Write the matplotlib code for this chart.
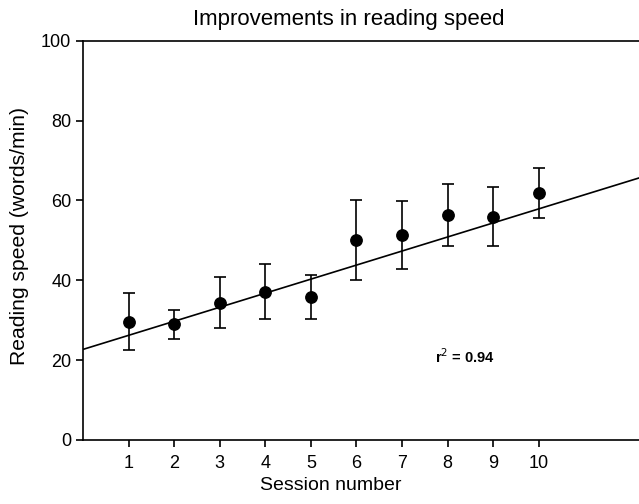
import matplotlib
matplotlib.use("Agg")
import matplotlib.pyplot as plt
import numpy as np

plt.rcParams['font.family'] = ['Liberation Sans', 'DejaVu Sans']

sessions = [1, 2, 3, 4, 5, 6, 7, 8, 9, 10]
speed_mean = [29.6, 29.0, 34.3, 37.1, 35.9, 50.0, 51.4, 56.3, 55.9, 61.9]
err_upper = [36.8, 32.5, 40.8, 44.0, 41.4, 60.0, 59.9, 64.1, 63.3, 68.2]
err_lower = [22.5, 25.3, 28.0, 30.3, 30.3, 40.1, 42.9, 48.5, 48.5, 55.6]
fit_intercept = 22.7
fit_slope = 3.52
r2_text = "r$^2$ = 0.94"

x = np.array(sessions)
y = np.array(speed_mean)
yerr = np.array([y - np.array(err_lower), np.array(err_upper) - y])

fig = plt.figure(figsize=(6.39, 5.04), dpi=100)
ax = fig.add_axes([0.13, 0.127, 0.87, 0.792])

xlim = (0, 12.2)
xl = np.array(xlim)
ax.plot(xl, fit_intercept + fit_slope * xl, color='black', lw=1.2, zorder=2)
ax.errorbar(x, y, yerr=yerr, fmt='o', color='black', ms=8.2, capsize=4.5,
            elinewidth=1.2, capthick=1.2, zorder=3)

ax.set_xlim(*xlim)
ax.set_ylim(0, 100)
ax.set_xticks(sessions)
ax.set_yticks([0, 20, 40, 60, 80, 100])
ax.spines['right'].set_visible(False)
for s in ['left', 'top', 'bottom']:
    ax.spines[s].set_linewidth(1.2)
ax.tick_params(direction='out', length=5, width=1.2, labelsize=13)
ax.tick_params(axis='x', pad=6)
ax.set_xlabel("Session number", fontsize=14)
ax.xaxis.set_label_coords(0.446, -0.115)
ax.xaxis.label.set_va('center')
ax.set_ylabel("Reading speed (words/min)", fontsize=15.2)
ax.yaxis.set_label_coords(-0.115, 0.51)
ax.yaxis.label.set_va('center')
ax.text(0.478, 1.054, "Improvements in reading speed", transform=ax.transAxes,
        fontsize=16, ha='center', va='center')
ax.text(7.72, 21, r2_text, fontsize=10.5, fontweight='bold', ha='left', va='center')

fig.savefig("out.png", dpi=100)
